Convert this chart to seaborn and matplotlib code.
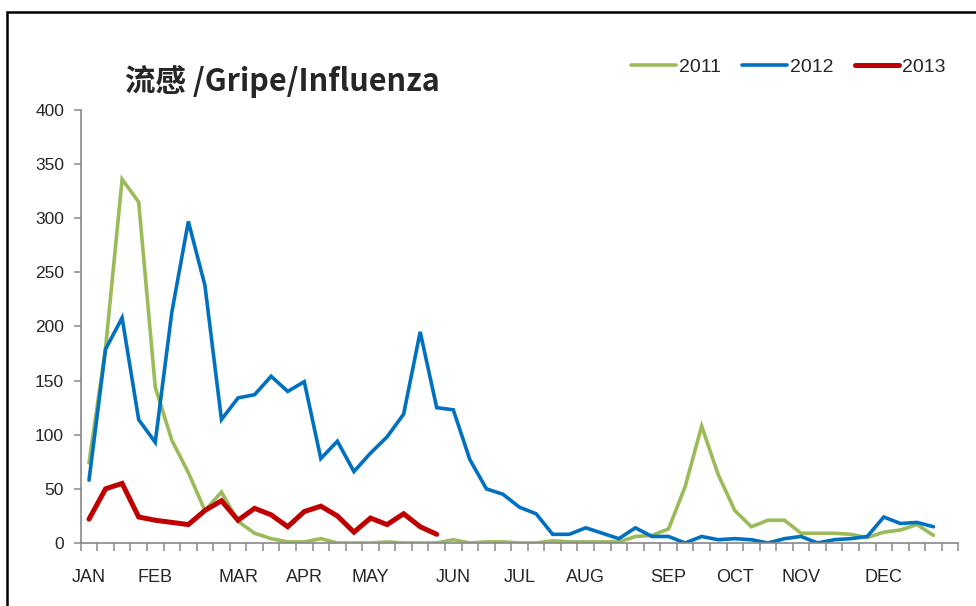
import numpy as np
import pandas as pd
import seaborn as sns
import matplotlib.pyplot as plt
from matplotlib.patches import Rectangle

# weekly influenza counts
flu_2011 = [74, 180, 336, 315, 144, 95, 65, 30, 47, 20, 9, 4, 1, 1, 4, 0, 0, 0, 1, 0,
            0, 0, 3, 0, 1, 1, 0, 0, 2, 1, 1, 1, 1, 6, 7, 13, 52, 108, 63, 30,
            15, 21, 21, 9, 9, 9, 8, 5, 10, 12, 17, 7]
flu_2012 = [58, 179, 208, 114, 93, 213, 297, 238, 114, 134, 137, 154, 140, 149, 78, 94, 66, 83, 98, 119,
            195, 125, 123, 77, 50, 45, 33, 27, 8, 8, 14, 9, 4, 14, 6, 6, 0, 6, 3, 4,
            3, 0, 4, 6, 0, 3, 4, 6, 24, 18, 19, 15]
flu_2013 = [22, 50, 55, 24, 21, 19, 17, 30, 39, 21, 32, 26, 15, 29, 34, 25, 10, 23, 17, 27,
            15, 8]

years = ["2011", "2012", "2013"]
colors = ["#9BBB59", "#0070C0", "#C00000"]
widths = [2.6, 2.6, 3.6]
months = ["JAN", "FEB", "MAR", "APR", "MAY", "JUN", "JUL", "AUG", "SEP", "OCT", "NOV", "DEC"]
month_week = [0, 4, 9, 13, 17, 22, 26, 30, 35, 39, 43, 48]
n_weeks = 53

rows = []
for yr, vals in zip(years, [flu_2011, flu_2012, flu_2013]):
    for wk, v in enumerate(vals):
        rows.append({"week": wk, "cases": v, "year": yr})
df = pd.DataFrame(rows)

sns.set_style("ticks")
plt.rcParams["font.family"] = ["Liberation Sans", "DejaVu Sans"]

fig = plt.figure(figsize=(9.76, 6.06), dpi=100)
ax = fig.add_axes([0.0827, 0.104, 0.8992, 0.7145])

sns.lineplot(data=df, x="week", y="cases", hue="year", palette=colors,
             hue_order=years, ax=ax, legend=False)
for line, w in zip(ax.get_lines(), widths):
    line.set_linewidth(w)
    line.set_solid_joinstyle("miter")

ax.set_xlim(-0.5, n_weeks - 0.5)
ax.set_ylim(0, 400)
ax.set_yticks(range(0, 401, 50))
ax.set_xticks(np.arange(-0.5, n_weeks, 1))
ax.set_xticklabels([])
ax.set_xticks(month_week, minor=True)
ax.set_xticklabels(months, minor=True)
ax.tick_params(axis="x", which="major", bottom=True, length=6, color="#888888", width=1.1)
ax.tick_params(axis="x", which="minor", bottom=True, length=0, pad=19, labelsize=13)
ax.tick_params(axis="y", left=True, length=5, color="#888888", width=1.1, labelsize=12.5, pad=7)
ax.set_xlabel("")
ax.set_ylabel("")
for side in ["top", "right"]:
    ax.spines[side].set_visible(False)
for side in ["left", "bottom"]:
    ax.spines[side].set_color("#888888")
    ax.spines[side].set_linewidth(1.2)

handles = [plt.Line2D([], [], color=c, lw=w) for c, w in zip(colors, widths)]
fig.legend(handles, years, loc="center right", bbox_to_anchor=(0.987, 1 - 67 / 606),
           ncol=3, frameon=False, fontsize=14, handlelength=2.3, handletextpad=0.15,
           columnspacing=1.1)

fig.text(125 / 976, 1 - 82 / 606, "流感 /Gripe/Influenza", fontsize=22, fontweight="bold",
         va="center", ha="left", family=["Noto Sans CJK SC", "DejaVu Sans"])

# frame of the original chart box (only top and left edges are inside the picture)
top = 1 - 11.5 / 606
fig.patches.append(Rectangle((6.5 / 976, -0.2), 1.2, top + 0.2,
                             transform=fig.transFigure, fill=False, edgecolor="black",
                             linewidth=1.8, clip_on=False))

fig.savefig("out.png", dpi=100)
